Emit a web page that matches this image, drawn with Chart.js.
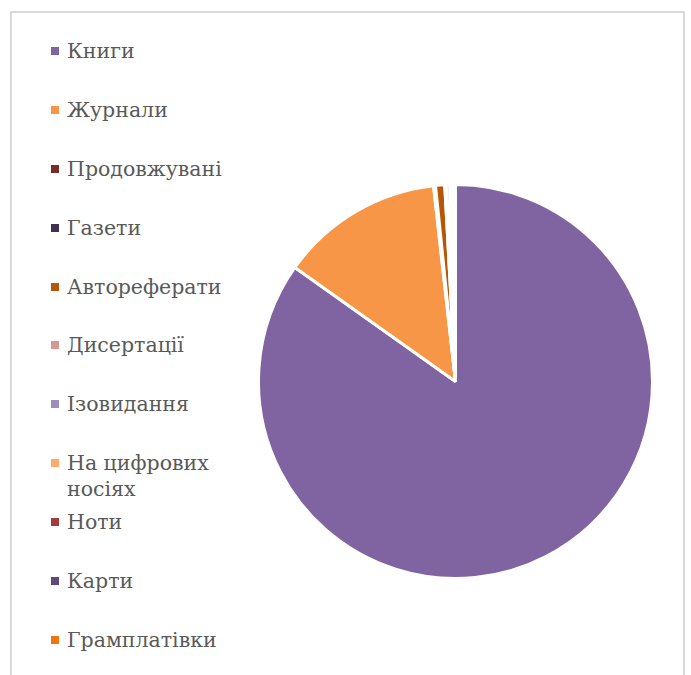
<!DOCTYPE html>
<html>
<head>
<meta charset="utf-8">
<script src="https://cdn.jsdelivr.net/npm/chart.js@4/dist/chart.umd.min.js"></script>
<style>
  html, body { margin: 0; padding: 0; background: #fff; }
  body { width: 691px; height: 675px; position: relative; overflow: hidden; }
  .frame {
    position: absolute; left: 10px; top: 11px; width: 671px; height: 700px;
    border: 2px solid #d9d9d9; box-sizing: content-box;
  }
  #legend {
    position: absolute; left: 51px; top: 38px; margin: 0; padding: 0; list-style: none;
    font-family: "DejaVu Serif", serif; font-size: 20.5px; color: #595959;
  }
  #legend li { height: 58.9px; display: flex; align-items: flex-start; }
  #legend .box { width: 8px; height: 8px; margin-top: 9px; margin-right: 8px; flex: none; }
  #legend .txt { line-height: 26px; width: 165px; }
  .pie { position: absolute; left: 255px; top: 181px; width: 401px; height: 401px; }
</style>
</head>
<body>
<div class="frame"></div>
<ul id="legend"></ul>
<div class="pie"><canvas id="pieChart" width="401" height="401"></canvas></div>
<script>
const categories = [
  "Книги",
  "Журнали",
  "Продовжувані",
  "Газети",
  "Автореферати",
  "Дисертації",
  "Ізовидання",
  "На цифрових носіях",
  "Ноти",
  "Карти",
  "Грамплатівки",
];
// share of the total, %
const shares = [84.83, 13.39, 0.08, 0.08, 0.75, 0.15, 0.27, 0.15, 0.1, 0.1, 0.1];
const colors = [
  "#8064A2", "#F79646", "#772C2A", "#3F3151", "#B65708", "#D99694",
  "#A08BC0", "#F9AC6B", "#A23B39", "#604A7B", "#F07410",
];

const ctx = document.getElementById("pieChart");
const chart = new Chart(ctx, {
  type: "pie",
  data: {
    labels: categories,
    datasets: [
      {
        data: shares,
        backgroundColor: colors,
        borderColor: "#ffffff",
        borderWidth: 3,
      },
    ],
  },
  options: {
    responsive: false,
    animation: false,
    events: [],
    layout: { padding: 2 },
    plugins: {
      legend: { display: false },
      tooltip: { enabled: false },
    },
  },
});

// legend built from the chart's own labels and colours
const legendEl = document.getElementById("legend");
chart.data.labels.forEach((label, i) => {
  const li = document.createElement("li");
  const box = document.createElement("span");
  box.className = "box";
  box.style.background = chart.data.datasets[0].backgroundColor[i];
  const txt = document.createElement("span");
  txt.className = "txt";
  txt.textContent = label;
  li.appendChild(box);
  li.appendChild(txt);
  legendEl.appendChild(li);
});
</script>
</body>
</html>
